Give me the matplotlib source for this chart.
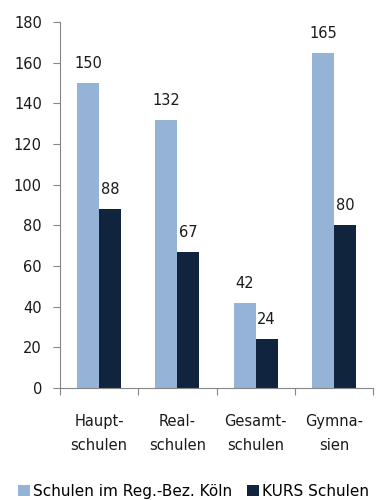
import matplotlib
matplotlib.use("Agg")
import matplotlib.pyplot as plt
import numpy as np

categories = ["Haupt-\nschulen", "Real-\nschulen", "Gesamt-\nschulen", "Gymna-\nsien"]
series_names = ["Schulen im Reg.-Bez. Köln", "KURS Schulen"]
region_values = [150, 132, 42, 165]
kurs_values = [88, 67, 24, 80]
y_ticks = [0, 20, 40, 60, 80, 100, 120, 140, 160, 180]

plt.rcParams['font.family'] = ['DejaVu Sans']

fig = plt.figure(figsize=(3.87, 5.0), dpi=100)
ax = fig.add_axes([0.155, 0.224, 0.809, 0.732])

x = np.arange(len(categories))
w = 0.28
light = "#95B3D7"
dark = "#10243E"
txt = "#1a1a1a"
fs = 10.5
b1 = ax.bar(x - w / 2, region_values, w, color=light, label=series_names[0])
b2 = ax.bar(x + w / 2, kurs_values, w, color=dark, label=series_names[1])

for bars, vals in ((b1, region_values), (b2, kurs_values)):
    for b, v in zip(bars, vals):
        ax.annotate(str(v), (b.get_x() + b.get_width() / 2, v), xytext=(0, 14),
                    textcoords="offset points", ha="center", va="center",
                    fontsize=fs, color=txt)

ax.set_ylim(0, 180)
ax.set_xlim(-0.5, len(categories) - 0.5)
ax.set_yticks(y_ticks)
ax.tick_params(axis='y', labelsize=fs, length=5, color="#868686", labelcolor=txt, pad=8)
ax.set_xticks(np.arange(len(categories) + 1) - 0.5, minor=False)
ax.set_xticklabels([])
ax.set_xticks(x, minor=True)
ax.set_xticklabels(categories, minor=True, fontsize=fs, color=txt, linespacing=1.7)
ax.tick_params(axis='x', which='major', length=5, color="#868686")
ax.tick_params(axis='x', which='minor', length=0, pad=19)
for s in ("top", "right"):
    ax.spines[s].set_visible(False)
for s in ("left", "bottom"):
    ax.spines[s].set_color("#868686")

fig.legend(handles=[b1, b2], labels=series_names, loc="lower center",
           bbox_to_anchor=(0.5, -0.025), ncol=2, frameon=False, fontsize=11,
           handlelength=0.8, handleheight=0.8, handletextpad=0.2, columnspacing=1.0)

fig.savefig("out.png", dpi=100)
